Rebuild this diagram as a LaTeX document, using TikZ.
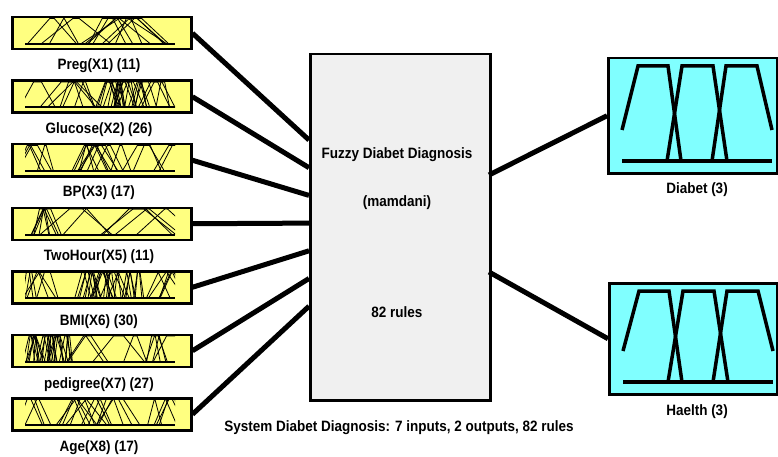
\documentclass[tikz,border=0pt]{standalone}
\usepackage{fontspec}
\setmainfont{Liberation Sans}[FakeStretch=0.9]
\definecolor{inyellow}{HTML}{FFFF80}
\definecolor{outcyan}{HTML}{80FFFF}
\definecolor{cgray}{HTML}{F0F0F0}
\newcommand{\mfset}[7]{% top, seed, n, lo, hi, wmin, wmax
  \pgfmathsetseed{#2}%
  \foreach \i in {1,...,#3}{%
    \pgfmathsetmacro{\pp}{#4+(#5-#4)*rnd}%
    \pgfmathsetmacro{\ww}{#6+(#7-#6)*rnd}%
    \pgfmathsetmacro{\tt}{\ww*0.3*rnd}%
    \draw[mfthin] (\pp-\ww,#1+28) -- (\pp-\tt,#1+2.5) -- (\pp+\tt,#1+2.5) -- (\pp+\ww,#1+28);
  }%
}
\newcommand{\inbase}[1]{\draw[line width=2pt] (25,#1+28) -- (175,#1+28);}
\newcommand{\outmf}[3]{% L, T, H
  \draw[mfthick] (#1+15,#2+#3-11) -- (#1+165,#2+#3-11);
  \draw[mfthick] (#1+15,#2+#3-42) -- (#1+31,#2+9) -- (#1+61,#2+9) -- (#1+74,#2+#3-11);
  \draw[mfthick] (#1+60,#2+#3-11) -- (#1+75,#2+9) -- (#1+106,#2+9) -- (#1+120,#2+#3-11);
  \draw[mfthick] (#1+105,#2+#3-11) -- (#1+119,#2+9) -- (#1+150,#2+9) -- (#1+165,#2+#3-42);
}
\begin{document}
\begin{tikzpicture}[x=1pt,y=-1pt,
  inbox/.style={draw,line width=2.5pt,fill=inyellow,minimum width=179pt,minimum height=32pt,inner sep=0pt,anchor=north west},
  outbox/.style={draw,line width=2.5pt,fill=outcyan,inner sep=0pt,anchor=north west},
  cbox/.style={draw,line width=2.5pt,fill=cgray,minimum width=180pt,minimum height=346pt,inner sep=0pt,anchor=north west},
  lbl/.style={font=\bfseries\fontsize{15}{18}\selectfont,inner sep=0pt},
  conn/.style={line width=5pt},
  mfthin/.style={line width=0.8pt},
  mfthick/.style={line width=3.5pt,line join=miter}]
\useasboundingbox (0,0) rectangle (778,457);
% central box
\node[cbox] (c) at (309,53) {};
\node[lbl] (t1) at (397,155) {Fuzzy Diabet Diagnosis};
\node[lbl] (t2) at (397,203) {(mamdani)};
\node[lbl] (t3) at (397,312) {82 rules};
\node[lbl] (cap) at (399,428) {System Diabet Diagnosis: 7 inputs, 2 outputs, 82 rules};
% input boxes
\node[inbox] (in1) at (11,16) {};
\node[inbox] (in2) at (11,79.5) {};
\node[inbox] (in3) at (11,143) {};
\node[inbox] (in4) at (11,206.5) {};
\node[inbox] (in5) at (11,270) {};
\node[inbox] (in6) at (11,333.5) {};
\node[inbox] (in7) at (11,397) {};
\node[lbl] (l1) at (99,66) {Preg(X1) (11)};
\node[lbl] (l2) at (99,130) {Glucose(X2) (26)};
\node[lbl] (l3) at (99,193) {BP(X3) (17)};
\node[lbl] (l4) at (99,257) {TwoHour(X5) (11)};
\node[lbl] (l5) at (99,322) {BMI(X6) (30)};
\node[lbl] (l6) at (99,385) {pedigree(X7) (27)};
\node[lbl] (l7) at (99,448) {Age(X8) (17)};
% input membership functions
\begin{scope}\clip (25,17) rectangle (175,45);
  \mfset{16}{11}{11}{25}{175}{12}{45}\end{scope}
\inbase{16}
\begin{scope}\clip (25,80.5) rectangle (175,108.5);
  \mfset{79.5}{21}{6}{25}{100}{8}{30}
  \mfset{79.5}{22}{16}{105}{145}{4}{14}
  \mfset{79.5}{23}{4}{145}{175}{6}{20}\end{scope}
\inbase{79.5}
\begin{scope}\clip (25,144) rectangle (175,172);
  \mfset{143}{31}{4}{25}{60}{8}{25}
  \mfset{143}{32}{10}{75}{145}{6}{22}
  \mfset{143}{33}{3}{145}{175}{8}{20}\end{scope}
\inbase{143}
\begin{scope}\clip (25,207.5) rectangle (175,235.5);
  \mfset{206.5}{41}{5}{25}{55}{4}{20}
  \mfset{206.5}{42}{6}{60}{170}{15}{40}\end{scope}
\inbase{206.5}
\begin{scope}\clip (25,271) rectangle (175,299);
  \mfset{270}{51}{5}{25}{50}{5}{18}
  \mfset{270}{52}{20}{80}{140}{3}{14}
  \mfset{270}{53}{5}{150}{175}{5}{18}\end{scope}
\inbase{270}
\begin{scope}\clip (25,334.5) rectangle (175,362.5);
  \mfset{333.5}{61}{19}{25}{70}{2}{10}
  \mfset{333.5}{62}{4}{75}{140}{10}{30}
  \mfset{333.5}{63}{4}{150}{175}{6}{20}\end{scope}
\inbase{333.5}
\begin{scope}\clip (25,398) rectangle (175,426);
  \mfset{397}{71}{3}{25}{55}{6}{20}
  \mfset{397}{72}{10}{65}{140}{6}{22}
  \mfset{397}{73}{4}{150}{175}{5}{18}\end{scope}
\inbase{397}
% output boxes
\node[outbox,minimum width=169pt,minimum height=115pt] (dia) at (607,57) {};
\node[outbox,minimum width=168pt,minimum height=111pt] (hae) at (608,282) {};
\outmf{607}{57}{115}
\outmf{608}{282}{111}
\node[lbl] (dl) at (697,190) {Diabet (3)};
\node[lbl] (hl) at (697,412) {Haelth (3)};
% connectors
\foreach \k in {1,...,7}{
  \coordinate (ci\k) at (309,{140+27.7*(\k-1)});
  \draw[conn] (in\k.east) -- (ci\k);
}
\coordinate (co1) at (489,175);
\coordinate (co2) at (489,272);
\draw[conn] (co1) -- (dia.west);
\draw[conn] (co2) -- (hae.west);
\end{tikzpicture}
\end{document}
